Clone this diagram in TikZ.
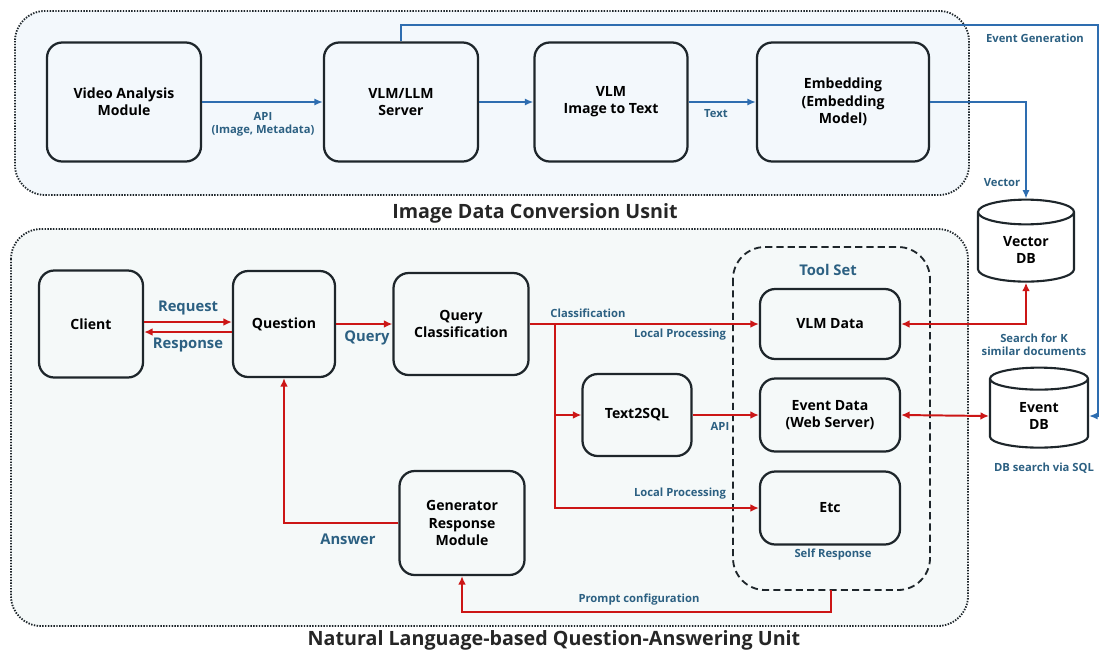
\documentclass[tikz,border=0pt]{standalone}
\usepackage{fontspec}
\setmainfont{Open Sans}
\usetikzlibrary{arrows.meta,shapes.geometric}

\newcommand{\pxu}{0.025cm}
\definecolor{boxline}{HTML}{1E262B}
\definecolor{flowblue}{HTML}{2E6DB0}
\definecolor{flowred}{HTML}{CC1616}
\definecolor{labelblue}{HTML}{2C6082}
\definecolor{convfill}{HTML}{F3F8FC}
\definecolor{qafill}{HTML}{F5F9F9}

\tikzset{
  unit/.style={draw=boxline, line width=1.3pt, dash pattern=on 1pt off 1pt, rounded corners=0.75cm},
  toolframe/.style={draw=boxline, line width=1.3pt, dash pattern=on 5pt off 3pt, rounded corners=0.8cm},
  module/.style={draw=boxline, line width=1.6pt, rounded corners=0.38cm, align=center,
    font=\fontsize{10}{12.3}\selectfont\bfseries},
  store/.style={cylinder, shape border rotate=90, aspect=0.45, draw=boxline, line width=1.5pt,
    align=center, font=\fontsize{10}{12.3}\selectfont\bfseries},
  lbl/.style={text=labelblue, font=\fontsize{8}{9.5}\selectfont\bfseries, align=center, inner sep=0pt},
  biglbl/.style={text=labelblue, font=\fontsize{10.5}{12}\selectfont\bfseries, inner sep=0pt},
  unittitle/.style={font=\fontsize{14}{16}\selectfont\bfseries, text=black!85, inner sep=0pt},
  bluearr/.style={draw=flowblue, line width=1.1pt, -{Latex[length=6pt,width=5pt]}},
  redarr/.style={draw=flowred, line width=1.4pt, -{Latex[length=6pt,width=5.5pt]}},
  redboth/.style={draw=flowred, line width=1.4pt, {Latex[length=6pt,width=5.5pt]}-{Latex[length=6pt,width=5.5pt]}},
}

\begin{document}
\begin{tikzpicture}[x=\pxu,y=-\pxu]
    \useasboundingbox (0,0) rectangle (1099,654);

    \filldraw[unit, fill=convfill] (15,11) rectangle (969,195);
    \filldraw[unit, fill=qafill] (11,229) rectangle (968,626);
    \draw[toolframe] (733,247) rectangle (930,590);

    \node[unittitle] (convtitle) at (535,213) {Image Data Conversion Usnit};
    \node[unittitle] (qatitle) at (554,640) {Natural Language-based Question-Answering Unit};

    % image data conversion
    \node[module, minimum width=154*\pxu, minimum height=119*\pxu] (video) at (124,102) {Video Analysis\\Module};
    \node[module, minimum width=154*\pxu, minimum height=119*\pxu] (vlmserver) at (401,102) {VLM/LLM\\Server};
    \node[module, minimum width=153*\pxu, minimum height=119*\pxu] (vlmtext) at (611,102) {VLM\\Image to Text};
    \node[module, minimum width=172*\pxu, minimum height=119*\pxu] (embed) at (843,102) {Embedding\\(Embedding\\Model)};

    \node[store, minimum width=96*\pxu, minimum height=82*\pxu] (vectordb) at (1026,250) {Vector\\DB};
    \node[store, minimum width=98*\pxu, minimum height=80*\pxu] (eventdb) at (1039,416) {Event\\DB};

    % question answering
    \node[module, minimum width=104*\pxu, minimum height=107*\pxu] (client) at (91,324) {Client};
    \node[module, minimum width=102*\pxu, minimum height=106*\pxu] (question) at (284,324) {Question};
    \node[module, minimum width=135*\pxu, minimum height=102*\pxu] (querycls) at (461,324) {Query\\Classification};
    \node[module, minimum width=109*\pxu, minimum height=82*\pxu] (text2sql) at (637,415) {Text2SQL};
    \node[module, minimum width=140*\pxu, minimum height=70*\pxu] (vlmdata) at (830,324) {VLM Data};
    \node[module, minimum width=140*\pxu, minimum height=73*\pxu] (eventdata) at (830,415) {Event Data\\(Web Server)};
    \node[module, minimum width=140*\pxu, minimum height=73*\pxu] (etc) at (830,508) {Etc};
    \node[module, minimum width=125*\pxu, minimum height=104*\pxu] (genresp) at (462,523) {Generator\\Response\\Module};

    % blue flow
    \coordinate (eventturn) at (1098,25);
    \draw[bluearr] (video.east) -- (vlmserver.west);
    \draw[bluearr] (vlmserver.east) -- (vlmtext.west);
    \draw[bluearr] (vlmtext.east) -- (embed.west);
    \draw[bluearr] (embed.east) -| (vectordb.north);
    \draw[bluearr] (vlmserver.north) |- (eventturn) |- (eventdb.east);

    % red flow
    \coordinate (split) at (555,324);
    \coordinate (toolbottom) at (831,590);
    \draw[redarr] ([yshift=2*\pxu]client.east) -- ([yshift=2*\pxu]question.west);
    \draw[redarr] ([yshift=-8*\pxu]question.west) -- ([yshift=-8*\pxu]client.east);
    \draw[redarr] (question.east) -- (querycls.west);
    \draw[redarr] (querycls.east) -- (vlmdata.west);
    \draw[redarr] (split) |- (text2sql.west);
    \draw[redarr] (split) |- (etc.west);
    \draw[redarr] (text2sql.east) -- (eventdata.west);
    \draw[redboth] (vlmdata.east) -| (vectordb.south);
    \draw[redboth] (eventdata.east) -- (eventdb.west);
    \draw[redarr] (toolbottom) -- ++(0,22) -| (genresp.south);
    \draw[redarr] (genresp.west) -| (question.south);

    % labels
    \node[lbl] (apilbl) at (263,124) {API\\(Image, Metadata)};
    \node[lbl] (textlbl) at (716,114) {Text};
    \node[lbl] (vectorlbl) at (1002,183) {Vector};
    \node[lbl] (eventgenlbl) at (1035,38) {Event Generation};
    \node[lbl] (searchlbl) at (1034,345) {Search for K\\similar documents};
    \node[lbl] (sqllbl) at (1044,468) {DB search via SQL};
    \node[biglbl] (requestlbl) at (188,308) {Request};
    \node[biglbl] (responselbl) at (188,345) {Response};
    \node[biglbl] (querylbl) at (367,338) {Query};
    \node[biglbl] (answerlbl) at (348,539) {Answer};
    \node[biglbl] (toolsetlbl) at (828,270) {Tool Set};
    \node[lbl] (classlbl) at (588,313) {Classification};
    \node[lbl] (local1lbl) at (680,335) {Local Processing};
    \node[lbl] (apilbl2) at (720,426) {API};
    \node[lbl] (local2lbl) at (680,494) {Local Processing};
    \node[lbl] (selflbl) at (833,555) {Self Response};
    \node[lbl] (promptlbl) at (639,600) {Prompt configuration};
\end{tikzpicture}
\end{document}
